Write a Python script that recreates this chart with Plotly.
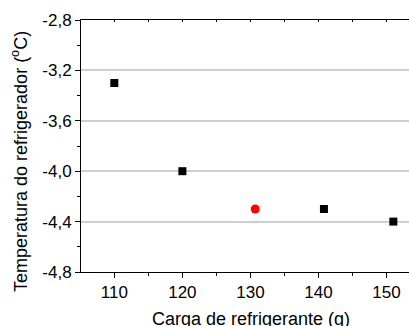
import plotly.graph_objects as go

carga_black = [110, 120, 140.8, 151]
temp_black = [-3.3, -4.0, -4.3, -4.4]
carga_red = [130.7]
temp_red = [-4.3]
y_ticks = [-4.8, -4.4, -4.0, -3.6, -3.2, -2.8]
y_labels = ["-4,8", "-4,4", "-4,0", "-3,6", "-3,2", "-2,8"]
x_ticks = [110, 120, 130, 140, 150]
x_title = "Carga de refrigerante (g)"
y_title = "Temperatura do refrigerador (<sup>o</sup>C)"

fig = go.Figure()
fig.add_trace(go.Scatter(x=carga_black, y=temp_black, mode="markers",
                         marker=dict(symbol="square", size=8, color="black"),
                         showlegend=False))
fig.add_trace(go.Scatter(x=carga_red, y=temp_red, mode="markers",
                         marker=dict(symbol="circle", size=9, color="#ff0000"),
                         showlegend=False))

font = dict(family="Liberation Sans, Arial, sans-serif", size=17, color="black")
tfont = dict(family="Liberation Sans, Arial, sans-serif", size=18, color="black")
fig.update_layout(
    width=409, height=326,
    margin=dict(l=81, r=0, t=20, b=54),
    plot_bgcolor="white", paper_bgcolor="white",
    font=font,
    xaxis=dict(range=[105.1, 153.3], tickvals=x_ticks, ticks="outside", ticklen=5,
               tickcolor="black", showline=True, linecolor="black", linewidth=1,
               showgrid=False, zeroline=False, automargin=False,
               minor=dict(dtick=5, tick0=105, ticks="outside", ticklen=3, tickcolor="black")),
    xaxis2=dict(overlaying="x", matches="x", side="top", range=[105.1, 153.3],
                tickvals=[110, 115, 120, 125, 130, 135, 140, 145, 150],
                ticks="inside", ticklen=2, tickcolor="black", showticklabels=False,
                showline=True, linecolor="black", linewidth=1, showgrid=False, zeroline=False,
                automargin=False),
    yaxis=dict(range=[-4.8, -2.8], tickvals=y_ticks, ticktext=y_labels, ticks="outside",
               ticklen=5, tickcolor="black", showline=True, linecolor="black", linewidth=1,
               showgrid=True, gridcolor="#cfcfcf", gridwidth=1.5, zeroline=False,
               automargin=False,
               minor=dict(dtick=0.2, tick0=-4.8, ticks="outside", ticklen=3, tickcolor="black",
                          showgrid=False)),
    annotations=[
        dict(text=x_title, xref="paper", yref="paper", x=0.517, y=-0.185,
             xanchor="center", yanchor="middle", showarrow=False, font=tfont),
        dict(text=y_title, xref="paper", yref="paper", x=-0.186, y=0.4405,
             xanchor="center", yanchor="middle", showarrow=False, font=tfont, textangle=-90),
    ],
)
fig.add_trace(go.Scatter(x=[None], y=[None], xaxis="x2", showlegend=False, hoverinfo="skip"))

fig.write_html("out.html", config={"displayModeBar": False},
               post_script="document.body.style.margin='0';document.body.style.padding='0';")
